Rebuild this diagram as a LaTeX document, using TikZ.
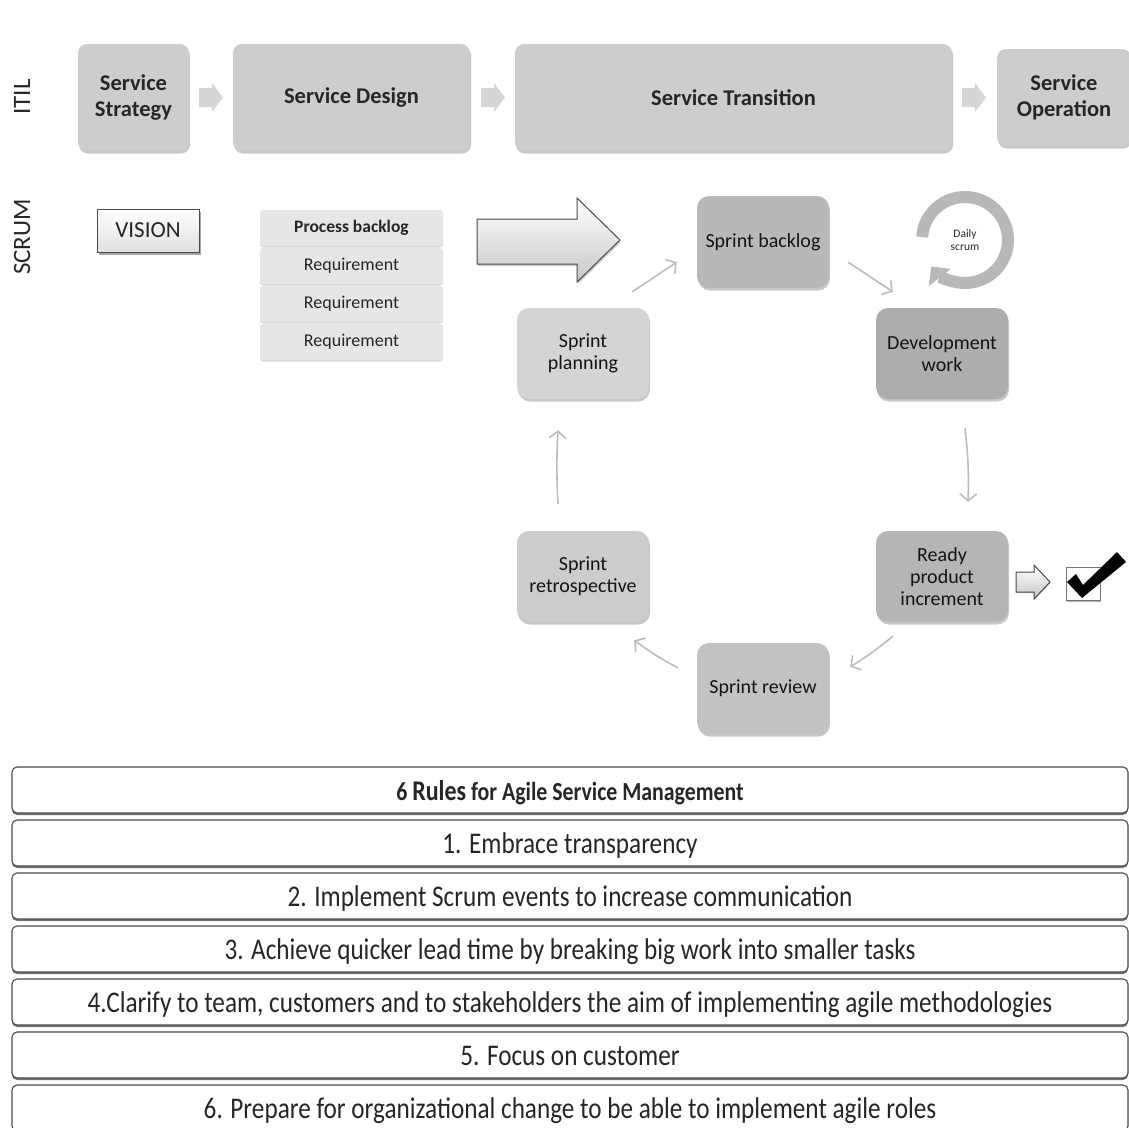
\documentclass[tikz,border=0pt]{standalone}
\usepackage{fontspec}
\setmainfont{Carlito}
\newfontfamily\narrowfont{Carlito}[FakeStretch=0.84]
\usetikzlibrary{shadows,arrows.meta,calc}

\definecolor{txt}{HTML}{262626}
\definecolor{boxtxt}{HTML}{141414}
\definecolor{itilgray}{HTML}{CDCDCD}
\definecolor{itilarrow}{HTML}{D6D6D6}
\definecolor{reqgray}{HTML}{E6E6E6}
\definecolor{cycgray}{HTML}{BDBDBD}
\definecolor{ringgray}{HTML}{B8B8B8}
\definecolor{edgegray}{HTML}{4A4A4A}

\begin{document}
\begin{tikzpicture}[x=1pt,y=-1pt,
  every node/.style={text=txt},
  softshadow/.style={drop shadow={shadow xshift=1pt,shadow yshift=-2.5pt,opacity=.22,fill=black}},
  itilbox/.style={rounded corners=9,fill=itilgray,inner sep=0,align=center,
    font=\fontsize{22.5}{25.5}\selectfont\bfseries,softshadow},
  lanelabel/.style={rotate=90,font=\fontsize{25}{28}\selectfont},
  scrumbox/.style={rounded corners=12,inner sep=0,align=center,text=boxtxt,
    minimum width=132,minimum height=91,
    font=\fontsize{20}{22}\selectfont,softshadow},
  reqbox/.style={rounded corners=3,fill=reqgray,inner sep=0,
    minimum width=183,minimum height=36,font=\fontsize{18}{20}\selectfont,
    drop shadow={shadow xshift=0pt,shadow yshift=-1.5pt,opacity=.15,fill=black}},
  cyc/.style={draw=cycgray,line width=1.6,-{Straight Barb[length=7pt,width=17pt]}},
  rulebox/.style={draw=edgegray,line width=1.1,fill=white,rounded corners=5,
    inner sep=0,minimum width=1116,minimum height=46,text height=23pt,text depth=2pt,
    font=\narrowfont\fontsize{30}{32}\selectfont,
    drop shadow={shadow xshift=0pt,shadow yshift=-2pt,opacity=.55,fill=black}},
  hollowarrow/.style={draw=edgegray,line width=1,top color=white,bottom color=black!22},
  itilpointer/.pic={\fill[itilarrow] (0,-9.5) -- (13,-9.5) -- (13,-14.5) -- (24,0)
      -- (13,14.5) -- (13,9.5) -- (0,9.5) -- cycle;}
]
\useasboundingbox (0,0) rectangle (1129,1127);
\fill[white] (0,0) rectangle (1129,1127);

% ---------------- ITIL lane ----------------
\node[lanelabel] (itil) at (22,97) {ITIL};
\node[itilbox,minimum width=111,minimum height=107] (strat) at (133.5,97.5) {Service\\Strategy};
\node[itilbox,minimum width=237,minimum height=107] (design) at (351.5,97.5) {Service Design};
\node[itilbox,minimum width=437,minimum height=107] (trans) at (733.5,97.5) {Service Transition};
\node[itilbox,minimum width=134,minimum height=97] (oper) at (1064,97.5) {Service\\Operation};
\pic at (199,97.5) {itilpointer};
\pic at (481,97.5) {itilpointer};
\pic at (962,97.5) {itilpointer};

% ---------------- Scrum lane ----------------
\node[lanelabel] (scrum) at (22,237) {SCRUM};
\node[draw=edgegray,line width=1,top color=white,bottom color=black!12,
      minimum width=102,minimum height=43,inner sep=0,
      font=\fontsize{23}{25}\selectfont,
      drop shadow={shadow xshift=1.5pt,shadow yshift=-2.5pt,opacity=.35,fill=black}]
      (vision) at (148,230.5) {VISION};

\node[reqbox,font=\fontsize{17.5}{20}\selectfont\bfseries] (pb) at (351.5,228) {Process backlog};
\node[reqbox] (req1) at (351.5,266) {Requirement};
\node[reqbox] (req2) at (351.5,304) {Requirement};
\node[reqbox] (req3) at (351.5,342) {Requirement};

% big arrow feeding the sprint
\path[hollowarrow,drop shadow={shadow xshift=1pt,shadow yshift=-2pt,opacity=.2,fill=black}]
  (477,219) -- (577,219) -- (577,198) -- (620,240) -- (577,282) -- (577,264) -- (477,264) -- cycle;

% sprint cycle
\node[scrumbox,fill=black!28,minimum height=92] (backlog) at (763,242) {Sprint backlog};
\node[scrumbox,fill=black!17] (planning) at (583,353.5) {Sprint\\planning};
\node[scrumbox,fill=black!32] (dev) at (942,353.5) {Development\\work};
\node[scrumbox,fill=black!29] (ready) at (942,576.5) {Ready\\product\\increment};
\node[scrumbox,fill=black!24] (review) at (763,688.5) {Sprint review};
\node[scrumbox,fill=black!20] (retro) at (583,576.5) {Sprint\\retrospective};

\draw[cyc] ([shift={(-17,-16)}]planning.north east) -- ([shift={(-20,-26)}]backlog.south west);
\draw[cyc] ([shift={(19,-26)}]backlog.south east) -- ([shift={(17,-16)}]dev.north west);
\draw[cyc] ([shift={(23,29)}]dev.south) to[bend left=4] ([shift={(26,-29)}]ready.north);
\draw[cyc] ([shift={(17,14)}]ready.south west) to[bend left=4] ([shift={(21,24)}]review.north east);
\draw[cyc] ([shift={(-19,25)}]review.north west) to[bend left=4] ([shift={(-15,18)}]retro.south east);
\draw[cyc] ([shift={(-25,-27)}]retro.north) to[bend left=3] ([shift={(-25,31)}]planning.south);

% daily scrum loop
\node[font=\fontsize{11.5}{13}\selectfont,align=center] (daily) at (965,240) {Daily\\scrum};
\draw[ringgray,line width=12,-{Triangle[length=14pt,width=27pt]}]
  ($(daily.center)+(184:43)$) arc[start angle=184,end angle=502,radius=43];

% done: increment delivered
\path[hollowarrow,drop shadow={shadow xshift=.5pt,shadow yshift=-1pt,opacity=.2,fill=black}]
  (1016,572) -- (1034,572) -- (1034,565) -- (1050,582) -- (1034,599) -- (1034,592) -- (1016,592) -- cycle;
\node[draw=black!55,line width=1,fill=white,minimum width=34,minimum height=33,inner sep=0,
      drop shadow={shadow xshift=1pt,shadow yshift=-1.5pt,opacity=.3,fill=black}]
      (done) at (1083,584) {};
\fill[black] (1067,582) -- (1076,574) -- (1083,585) -- (1117,552) -- (1126,562) -- (1082,598) -- cycle;

% ---------------- rules table ----------------
\node[rulebox,font=\narrowfont\fontsize{26}{28}\selectfont\bfseries] (rules) at (570,790)
  {6 {\fontsize{28.5}{30}\selectfont Rules} for Agile Service Management};
\node[rulebox] (rule1) at (570,843) {1. Embrace transparency};
\node[rulebox] (rule2) at (570,896) {2. Implement Scrum events to increase communication};
\node[rulebox] (rule3) at (570,949) {3. Achieve quicker lead time by breaking big work into smaller tasks};
\node[rulebox] (rule4) at (570,1002) {4.Clarify to team, customers and to stakeholders the aim of implementing agile methodologies};
\node[rulebox] (rule5) at (570,1055) {5. Focus on customer};
\node[rulebox] (rule6) at (570,1108) {6. Prepare for organizational change to be able to implement agile roles};
\end{tikzpicture}
\end{document}
